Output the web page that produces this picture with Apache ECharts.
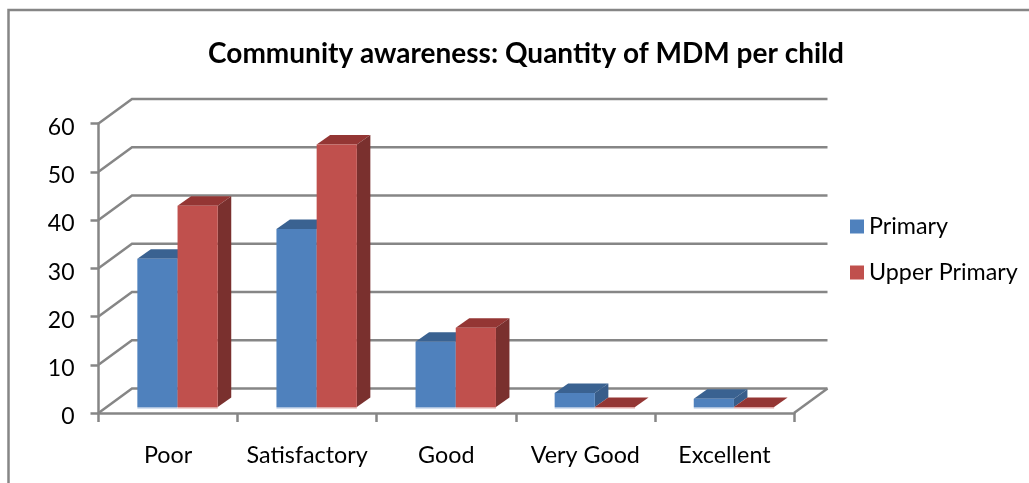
<!DOCTYPE html>
<html>
<head>
<meta charset="utf-8">
<style>html,body{margin:0;padding:0;background:#fff}#c{width:1029px;height:483px}</style>
<script src="https://cdn.jsdelivr.net/npm/echarts@6/dist/echarts.min.js"></script>
</head>
<body>
<div id="c"></div>
<script>
const categories = ['Poor', 'Satisfactory', 'Good', 'Very Good', 'Excellent'];
const primaryValues = [30.7, 36.9, 13.5, 2.9, 1.7];
const upperPrimaryValues = [41.7, 54.4, 16.4, 0, 0];
const gridValues = [0, 10, 20, 30, 40, 50, 60];

const GRAY = '#868686';
const FONT = 'Lato, Carlito, Calibri, sans-serif';
const wallDepth = [33.5, -24.5];   // floor/wall depth
const barShift = [9.5, -6];        // bars stand a little behind the front edge
const barDepth = [13.5, -9.5];     // depth of each bar
const barRatio = 0.289;

function wallItem(params, api) {
  const cs = params.coordSys;
  const y = api.coord([0, api.value(1)])[1];
  const x0 = cs.x, x1 = cs.x + cs.width;
  const children = [{
    type: 'polyline',
    shape: { points: [[x0, y], [x0 + wallDepth[0], y + wallDepth[1]], [x1 + wallDepth[0], y + wallDepth[1]]] },
    style: { stroke: GRAY, lineWidth: 2.5, fill: null }
  }];
  if (api.value(1) === 0) {
    children.push({
      type: 'line',
      shape: { x1: x1, y1: y, x2: x1 + wallDepth[0], y2: y + wallDepth[1] },
      style: { stroke: GRAY, lineWidth: 2.5 }
    });
  }
  return { type: 'group', children };
}

function barRenderer(slot, colors) {
  return function (params, api) {
    const c = api.coord([api.value(0), api.value(1)]);
    const base = api.coord([api.value(0), 0]);
    const w = api.size([1, 0])[0] * barRatio;
    const x0 = c[0] + barShift[0] + slot * w, x1 = x0 + w;
    const yT = c[1] + barShift[1], yB = base[1] + barShift[1];
    const dx = barDepth[0], dy = barDepth[1];
    const ch = [];
    ch.push({ type: 'polygon', shape: { points: [[x0, yT], [x1, yT], [x1 + dx, yT + dy], [x0 + dx, yT + dy]] },
      style: { fill: colors.top } });
    if (yB - yT > 0.5) {
      ch.push({ type: 'polygon', shape: { points: [[x1, yT], [x1 + dx, yT + dy], [x1 + dx, yB + dy], [x1, yB]] },
        style: { fill: colors.side } });
      ch.push({ type: 'rect', shape: { x: x0, y: yT, width: w, height: yB - yT },
        style: { fill: colors.front } });
    }
    ch.push({ type: 'rect', shape: { x: x0, y: yB, width: w, height: 1.5 },
      style: { fill: colors.foot } });
    return { type: 'group', children: ch };
  };
}

const blue = { front: '#4F81BD', top: '#3A6291', side: '#385D8A', foot: '#A9C0DE' };
const red = { front: '#C0504D', top: '#943634', side: '#7A302E', foot: '#DFA8A6' };

const chart = echarts.init(document.getElementById('c'), null, { renderer: 'canvas' });
chart.setOption({
  animation: false,
  backgroundColor: '#fff',
  title: {
    text: 'Community awareness: Quantity of MDM per child',
    left: 521, top: 35, textAlign: 'center',
    textStyle: { fontFamily: FONT, fontSize: 28, fontWeight: 'bold', color: '#000' }
  },
  legend: {
    orient: 'vertical', left: 850, top: 215, padding: 0, itemWidth: 14, itemHeight: 14, itemGap: 23,
    icon: 'rect',
    data: ['Primary', 'Upper Primary'],
    textStyle: { fontFamily: FONT, fontSize: 23.3, color: '#000', padding: [0, 0, 0, 0] }
  },
  grid: { left: 98.5, right: 235, top: 123.5, bottom: 70 },
  xAxis: {
    type: 'category', data: categories,
    axisLine: { show: true, lineStyle: { color: GRAY, width: 2.5 } },
    axisTick: { show: true, length: 9, lineStyle: { color: GRAY, width: 2.5 } },
    axisLabel: { interval: 0, margin: 31, fontFamily: FONT, fontSize: 23.3, color: '#000' },
    splitLine: { show: false }
  },
  yAxis: {
    type: 'value', min: 0, max: 60, interval: 10,
    axisLine: { show: true, lineStyle: { color: GRAY, width: 2.5 } },
    axisTick: { show: true, length: 8, lineStyle: { color: GRAY, width: 2.5 } },
    axisLabel: { margin: 24, verticalAlign: 'top', lineHeight: 8, fontFamily: FONT, fontSize: 23, color: '#000' },
    splitLine: { show: false }
  },
  graphic: [{
    type: 'polyline', silent: true, z: -1,
    shape: { points: [[8.5, 483], [8.5, 10], [1029, 10]] },
    style: { stroke: GRAY, lineWidth: 2.5, fill: null }
  }],
  series: [
    { name: 'walls', type: 'custom', z: 1, silent: true, clip: false,
      renderItem: wallItem, encode: { x: 0, y: 1 },
      data: gridValues.map(v => [0, v]) },
    { name: 'Primary', type: 'custom', z: 3, clip: false,
      itemStyle: { color: blue.front },
      renderItem: barRenderer(-1, blue), encode: { x: 0, y: 1 },
      data: primaryValues.map((v, i) => [i, v]) },
    { name: 'Upper Primary', type: 'custom', z: 4, clip: false,
      itemStyle: { color: red.front },
      renderItem: barRenderer(0, red), encode: { x: 0, y: 1 },
      data: upperPrimaryValues.map((v, i) => [i, v]) }
  ]
});
</script>
</body>
</html>
